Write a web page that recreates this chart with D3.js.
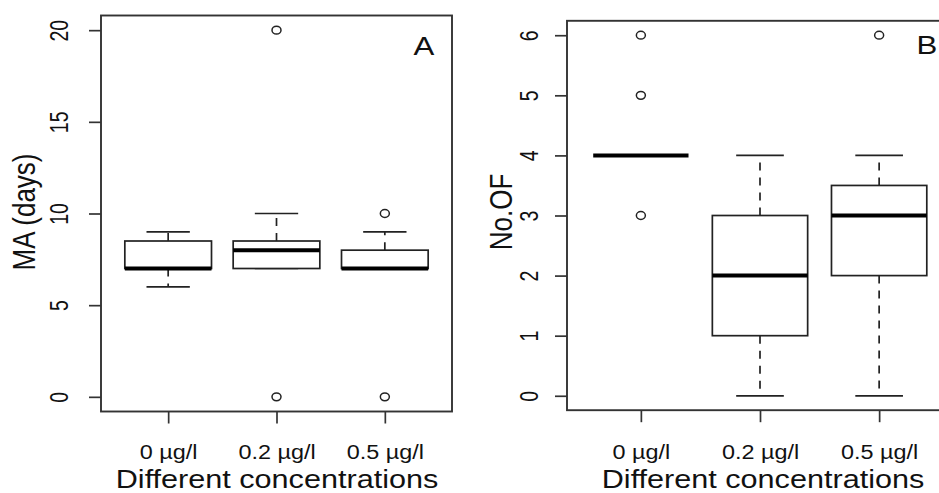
<!DOCTYPE html>
<html>
<head>
<meta charset="utf-8">
<script src="https://cdn.jsdelivr.net/npm/d3@7"></script>
<style>
  html, body { margin: 0; padding: 0; background: #fff; }
  svg { display: block; }
  text { font-family: "Liberation Sans", Arial, sans-serif; fill: #111; }
</style>
</head>
<body>
<svg id="chart" width="939" height="493"></svg>
<script>
// ---- data ----
const categories = ["0 µg/l", "0.2 µg/l", "0.5 µg/l"];
// [lower whisker, Q1, median, Q3, upper whisker]
const maStats = [[6, 7, 7, 8.5, 9], [7, 7, 8, 8.5, 10], [7, 7, 7, 8, 9]];
const maOutliers = [[], [20, 0], [10, 0]];
const ofStats = [[4, 4, 4, 4, 4], [0, 1, 2, 3, 4], [0, 2, 3, 3.5, 4]];
const ofOutliers = [[6, 5, 3], [], [6]];
const maTicks = [0, 5, 10, 15, 20];
const ofTicks = [0, 1, 2, 3, 4, 5, 6];
const xTitle = "Different concentrations";

// ---- layout ----
const SX = 1.2; // horizontal stretch of the original picture
const svg = d3.select("#chart");
svg.append("rect").attr("width", 939).attr("height", 493).attr("fill", "#fff");

function panel(cfg) {
  const g = svg.append("g");
  const x = d3.scaleLinear().domain([0.38, 3.62]).range([cfg.left, cfg.right]);
  const y = d3.scaleLinear().domain(cfg.yDomain).range([cfg.bottom, cfg.top]);
  const unit = x(2) - x(1);
  const bw = 0.8 * unit, sw = 0.4 * unit;

  // y axis
  const ya = g.append("g").attr("transform", `translate(${cfg.left},0)`)
    .call(d3.axisLeft(y).tickValues(cfg.ticks).tickSize(12).tickSizeOuter(0).tickFormat(d3.format("d")));
  ya.select(".domain").remove();
  ya.selectAll(".tick line").attr("stroke", "#333").attr("stroke-width", 1.7);
  ya.selectAll(".tick text")
    .attr("x", null).attr("dy", null).attr("fill", "#222")
    .attr("font-size", 19.5).attr("text-anchor", "middle")
    .attr("transform", `translate(${-cfg.yLabOff},0) scale(${SX + 0.1},1) rotate(-90)`);

  // x axis
  const xa = g.append("g").attr("transform", `translate(0,${cfg.bottom})`)
    .call(d3.axisBottom(x).tickValues([1, 2, 3]).tickSize(12).tickSizeOuter(0)
      .tickFormat(d => categories[d - 1]));
  xa.select(".domain").remove();
  xa.selectAll(".tick line").attr("stroke", "#333").attr("stroke-width", 1.7);
  xa.selectAll(".tick text")
    .attr("y", null).attr("dy", null).attr("fill", "#222")
    .attr("font-size", 19.5).attr("text-anchor", "middle")
    .attr("transform", `translate(0,${459 - cfg.bottom}) scale(${SX},1)`);

  // boxes
  cfg.stats.forEach((s, i) => {
    const cx = x(i + 1);
    const bg = g.append("g");
    [[s[1], s[0]], [s[3], s[4]]].forEach(([a, b]) => {
      if (a !== b) bg.append("line").attr("x1", cx).attr("x2", cx)
        .attr("y1", y(a)).attr("y2", y(b))
        .attr("stroke", "#222").attr("stroke-width", 1.7).attr("stroke-dasharray", "8,7");
    });
    [s[0], s[4]].forEach(v => {
      bg.append("line").attr("x1", cx - sw / 2).attr("x2", cx + sw / 2)
        .attr("y1", y(v)).attr("y2", y(v)).attr("stroke", "#222").attr("stroke-width", 1.7);
    });
    bg.append("rect").attr("x", cx - bw / 2).attr("width", bw)
      .attr("y", y(s[3])).attr("height", y(s[1]) - y(s[3]))
      .attr("fill", "#fff").attr("stroke", "#222").attr("stroke-width", 1.7);
    bg.append("line").attr("x1", cx - bw / 2).attr("x2", cx + bw / 2)
      .attr("y1", y(s[2])).attr("y2", y(s[2])).attr("stroke", "#000").attr("stroke-width", 4);
    cfg.outliers[i].forEach(v => {
      bg.append("ellipse").attr("cx", cx).attr("cy", y(v)).attr("rx", 4.5).attr("ry", 3.9)
        .attr("fill", "none").attr("stroke", "#222").attr("stroke-width", 1.5);
    });
  });

  // frame
  g.append("rect").attr("x", cfg.left).attr("y", cfg.top)
    .attr("width", cfg.right - cfg.left).attr("height", cfg.bottom - cfg.top)
    .attr("fill", "none").attr("stroke", "#333").attr("stroke-width", 1.9);

  // x title
  g.append("text").attr("text-anchor", "middle").attr("font-size", 25.5)
    .attr("transform", `translate(${cfg.xTitleX},488) scale(${SX},1)`).text(xTitle);
  // y title
  g.append("text").attr("text-anchor", "middle").attr("font-size", 26)
    .attr("transform", `translate(${cfg.yTitleX},${cfg.yTitleY}) scale(${SX},1) rotate(-90)`)
    .text(cfg.yTitle);
  // panel letter
  g.append("text").attr("text-anchor", "start").attr("font-size", 26)
    .attr("transform", `translate(${cfg.letterX},${cfg.letterY}) scale(${SX},1)`)
    .text(cfg.letter);
}

panel({
  left: 101, right: 452, top: 15.5, bottom: 411.5,
  yDomain: [-0.8, 20.8], ticks: maTicks, stats: maStats, outliers: maOutliers,
  yLabOff: 33, yTitle: "MA (days)", yTitleX: 35, yTitleY: 212,
  xTitleX: 277, letter: "A", letterX: 413.5, letterY: 54.5
});
panel({
  left: 567, right: 953, top: 20.8, bottom: 410.2,
  yDomain: [-0.24, 6.24], ticks: ofTicks, stats: ofStats, outliers: ofOutliers,
  yLabOff: 29, yTitle: "No.OF", yTitleX: 511.5, yTitleY: 212,
  xTitleX: 763, letter: "B", letterX: 916.5, letterY: 53.5
});
</script>
</body>
</html>
